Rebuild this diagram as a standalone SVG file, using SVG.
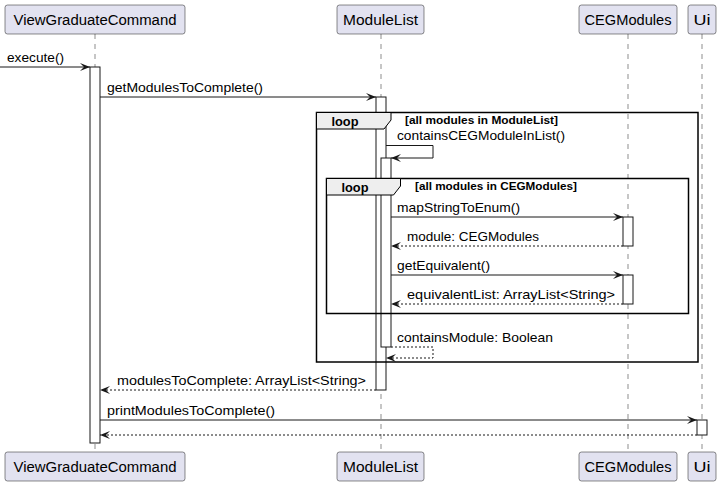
<svg xmlns="http://www.w3.org/2000/svg" width="721" height="486" viewBox="0 0 721 486">
<style>
.part rect{fill:#E2E2F0;stroke:#181818;stroke-width:0.5}
.ptxt{font-family:"Liberation Sans",Arial,sans-serif;font-size:14px;fill:#000;text-anchor:middle}
.life{stroke:#181818;stroke-width:0.5;stroke-dasharray:5,5;fill:none}
.act{fill:#FFFFFF;stroke:#181818;stroke-width:1}
.msg{stroke:#181818;stroke-width:1;fill:none}
.ret{stroke:#181818;stroke-width:1;fill:none;stroke-dasharray:2,2}
.mtxt{font-family:"Liberation Sans",Arial,sans-serif;font-size:13px;fill:#000}
.frame{fill:none;stroke:#000;stroke-width:1.5}
.tab{fill:#EEEEEE;stroke:#000;stroke-width:1}
.ltxt{font-family:"Liberation Sans",Arial,sans-serif;font-size:13px;font-weight:bold;fill:#000}
.gtxt{font-family:"Liberation Sans",Arial,sans-serif;font-size:11px;font-weight:bold;fill:#000}
</style>
<defs>
<marker id="ah" markerUnits="userSpaceOnUse" markerWidth="12" markerHeight="10" refX="10" refY="4" orient="auto" viewBox="0 0 12 10">
<path d="M0,0 L10,4 L0,8 L4,4 Z" fill="#181818"/>
</marker>
</defs>
<rect width="721" height="486" fill="#FFFFFF"/>

<g id="lifelines">
<line class="life" x1="95" y1="34" x2="95" y2="452"/>
<line class="life" x1="381" y1="34" x2="381" y2="452"/>
<line class="life" x1="628" y1="34" x2="628" y2="452"/>
<line class="life" x1="702" y1="34" x2="702" y2="452"/>
</g>

<g id="activations">
<rect class="act" x="90" y="67" width="10" height="376"/>
<rect class="act" x="376" y="97" width="10" height="293"/>
<rect class="act" x="381" y="158" width="10" height="189"/>
<rect class="act" x="623" y="217" width="10" height="29"/>
<rect class="act" x="623" y="275" width="10" height="29"/>
<rect class="act" x="697" y="420" width="10" height="15"/>
</g>

<g id="loop-outer">
<rect class="frame" x="316.5" y="112.5" width="381.5" height="249.5"/>
<path class="tab" d="M316.5,112.5 L391,112.5 L391,120 L384,129 L316.5,129 Z"/>
<text class="ltxt" x="331.5" y="126" textLength="27" lengthAdjust="spacingAndGlyphs">loop</text>
<text class="gtxt" x="405" y="124" textLength="153" lengthAdjust="spacingAndGlyphs">[all modules in ModuleList]</text>
</g>

<g id="loop-inner">
<rect class="frame" x="326.5" y="178.5" width="362" height="135"/>
<path class="tab" d="M326.5,178.5 L400.5,178.5 L400.5,186 L393.5,195 L326.5,195 Z"/>
<text class="ltxt" x="341.5" y="192" textLength="27" lengthAdjust="spacingAndGlyphs">loop</text>
<text class="gtxt" x="415" y="190" textLength="162" lengthAdjust="spacingAndGlyphs">[all modules in CEGModules]</text>
</g>

<g id="connectors">
<line class="msg" x1="0" y1="67" x2="90" y2="67" marker-end="url(#ah)"/>
<line class="msg" x1="100" y1="97" x2="376" y2="97" marker-end="url(#ah)"/>
<path class="msg" d="M386,145.5 L433,145.5 L433,158 L391,158" marker-end="url(#ah)"/>
<line class="msg" x1="391" y1="217" x2="623" y2="217" marker-end="url(#ah)"/>
<line class="ret" x1="623" y1="246" x2="391" y2="246" marker-end="url(#ah)"/>
<line class="msg" x1="391" y1="275" x2="623" y2="275" marker-end="url(#ah)"/>
<line class="ret" x1="623" y1="304" x2="391" y2="304" marker-end="url(#ah)"/>
<path class="ret" d="M391,347 L433,347 L433,358 L386,358" marker-end="url(#ah)"/>
<line class="ret" x1="376" y1="390" x2="100" y2="390" marker-end="url(#ah)"/>
<line class="msg" x1="100" y1="420" x2="697" y2="420" marker-end="url(#ah)"/>
<line class="ret" x1="697" y1="435" x2="100" y2="435" marker-end="url(#ah)"/>
</g>

<g id="labels">
<text class="mtxt" x="7" y="62" textLength="57" lengthAdjust="spacingAndGlyphs">execute()</text>
<text class="mtxt" x="107" y="92" textLength="156" lengthAdjust="spacingAndGlyphs">getModulesToComplete()</text>
<text class="mtxt" x="397" y="140" textLength="168" lengthAdjust="spacingAndGlyphs">containsCEGModuleInList()</text>
<text class="mtxt" x="397" y="212" textLength="123" lengthAdjust="spacingAndGlyphs">mapStringToEnum()</text>
<text class="mtxt" x="407" y="241" textLength="132" lengthAdjust="spacingAndGlyphs">module: CEGModules</text>
<text class="mtxt" x="397" y="270" textLength="93" lengthAdjust="spacingAndGlyphs">getEquivalent()</text>
<text class="mtxt" x="407" y="299" textLength="208" lengthAdjust="spacingAndGlyphs">equivalentList: ArrayList&lt;String&gt;</text>
<text class="mtxt" x="397" y="342" textLength="156" lengthAdjust="spacingAndGlyphs">containsModule: Boolean</text>
<text class="mtxt" x="117" y="385" textLength="249" lengthAdjust="spacingAndGlyphs">modulesToComplete: ArrayList&lt;String&gt;</text>
<text class="mtxt" x="107" y="415" textLength="168" lengthAdjust="spacingAndGlyphs">printModulesToComplete()</text>
</g>

<g id="p-vgc-top" class="part">
<rect x="5" y="5" width="180" height="29" rx="2.5"/>
<text class="ptxt" x="95" y="24.5" textLength="163" lengthAdjust="spacingAndGlyphs">ViewGraduateCommand</text>
</g>
<g id="p-ml-top" class="part">
<rect x="337" y="5" width="87" height="29" rx="2.5"/>
<text class="ptxt" x="380.5" y="24.5" textLength="75" lengthAdjust="spacingAndGlyphs">ModuleList</text>
</g>
<g id="p-ceg-top" class="part">
<rect x="579" y="5" width="98" height="29" rx="2.5"/>
<text class="ptxt" x="628" y="24.5" textLength="87" lengthAdjust="spacingAndGlyphs">CEGModules</text>
</g>
<g id="p-ui-top" class="part">
<rect x="688" y="5" width="28" height="29" rx="2.5"/>
<text class="ptxt" x="702" y="24.5" textLength="17" lengthAdjust="spacingAndGlyphs">Ui</text>
</g>

<g id="p-vgc-bottom" class="part">
<rect x="5" y="452" width="180" height="29" rx="2.5"/>
<text class="ptxt" x="95" y="471.5" textLength="163" lengthAdjust="spacingAndGlyphs">ViewGraduateCommand</text>
</g>
<g id="p-ml-bottom" class="part">
<rect x="337" y="452" width="87" height="29" rx="2.5"/>
<text class="ptxt" x="380.5" y="471.5" textLength="75" lengthAdjust="spacingAndGlyphs">ModuleList</text>
</g>
<g id="p-ceg-bottom" class="part">
<rect x="579" y="452" width="98" height="29" rx="2.5"/>
<text class="ptxt" x="628" y="471.5" textLength="87" lengthAdjust="spacingAndGlyphs">CEGModules</text>
</g>
<g id="p-ui-bottom" class="part">
<rect x="688" y="452" width="28" height="29" rx="2.5"/>
<text class="ptxt" x="702" y="471.5" textLength="17" lengthAdjust="spacingAndGlyphs">Ui</text>
</g>
</svg>
